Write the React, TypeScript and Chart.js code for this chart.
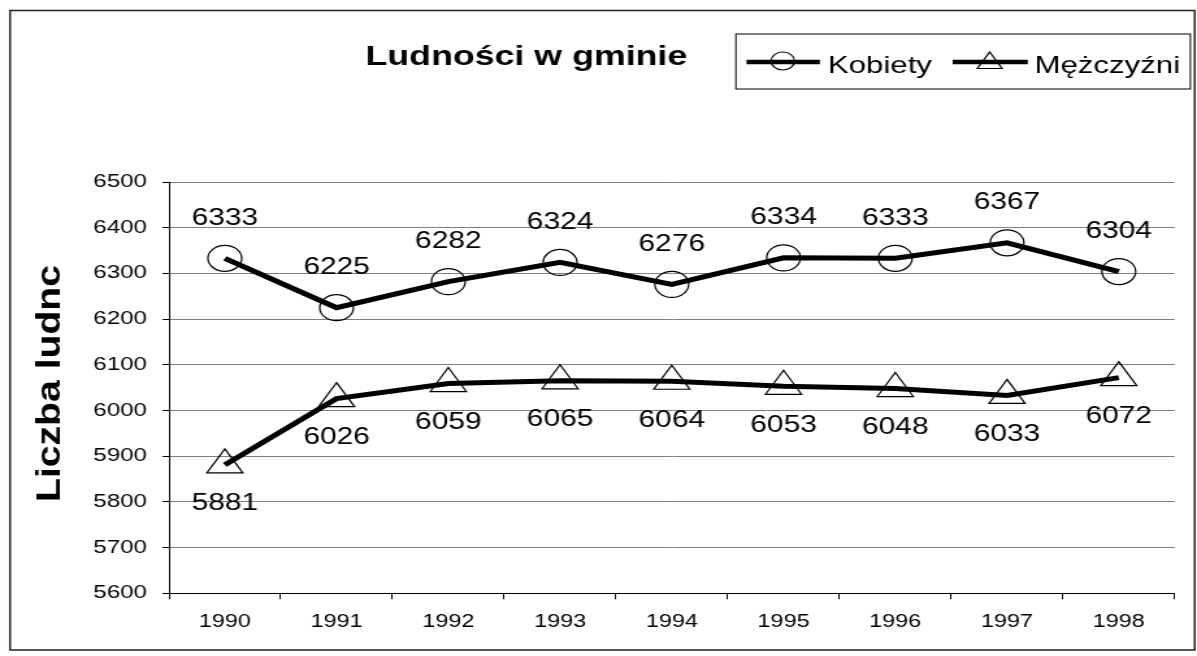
import React, { useEffect, useRef } from 'react';
import { Chart, registerables } from 'chart.js';

Chart.register(...registerables);

const YEARS = ['1990', '1991', '1992', '1993', '1994', '1995', '1996', '1997', '1998'];
const KOBIETY = [6333, 6225, 6282, 6324, 6276, 6334, 6333, 6367, 6304];
const MEZCZYZNI = [5881, 6026, 6059, 6065, 6064, 6053, 6048, 6033, 6072];
const SERIES_NAMES = ['Kobiety', 'Mężczyźni'];
const TITLE = 'Ludności w gminie';
const Y_TITLE = 'Liczba ludnc';
const Y_MIN = 5600;
const Y_MAX = 6500;
const Y_STEP = 100;

const FONT = '"Liberation Sans", Arial, sans-serif';
// The reference is horizontally stretched; render narrower and stretch with CSS.
const OUT_W = 1197;
const OUT_H = 656;
const STRETCH = 1.3;
const IN_W = Math.round(OUT_W / STRETCH);

function trianglePath(ctx: CanvasRenderingContext2D, cx: number, cy: number, r: number) {
  const s = Math.sin(Math.PI / 3) * r;
  ctx.beginPath();
  ctx.moveTo(cx, cy - r);
  ctx.lineTo(cx + s, cy + r / 2);
  ctx.lineTo(cx - s, cy + r / 2);
  ctx.closePath();
}

const overlayPlugin = {
  id: 'overlay',
  afterDatasetsDraw(chart: any) {
    const ctx: CanvasRenderingContext2D = chart.ctx;
    ctx.save();
    ctx.fillStyle = '#000';
    ctx.font = `23px ${FONT}`;
    ctx.textAlign = 'center';
    ctx.textBaseline = 'middle';
    chart.data.datasets.forEach((ds: any, di: number) => {
      const meta = chart.getDatasetMeta(di);
      meta.data.forEach((pt: any, i: number) => {
        const off = di === 0 ? -40 : 39;
        ctx.fillText(String(ds.data[i]), pt.x, pt.y + off);
      });
    });
    ctx.restore();
  },
  afterDraw(chart: any) {
    const ctx: CanvasRenderingContext2D = chart.ctx;
    ctx.save();
    // Title
    ctx.fillStyle = '#000';
    ctx.font = `bold 27.5px ${FONT}`;
    ctx.textAlign = 'center';
    ctx.textBaseline = 'alphabetic';
    ctx.fillText(TITLE, 405, 65);

    // Y axis title
    ctx.save();
    ctx.translate(39.6, 383.5);
    ctx.rotate(-Math.PI / 2);
    ctx.font = `bold 25px ${FONT}`;
    const w = ctx.measureText(Y_TITLE).width;
    ctx.scale(237 / w, 1);
    ctx.textAlign = 'center';
    ctx.textBaseline = 'middle';
    ctx.fillText(Y_TITLE, 0, 0);
    ctx.restore();

    // Legend box
    ctx.strokeStyle = '#000';
    ctx.lineWidth = 1;
    ctx.strokeRect(566.2, 34, 349.7, 55);
    const ly = 62;
    ctx.lineWidth = 4.5;
    ctx.beginPath();
    ctx.moveTo(574.4, ly);
    ctx.lineTo(630.8, ly);
    ctx.moveTo(733, ly);
    ctx.lineTo(790.8, ly);
    ctx.stroke();
    ctx.lineWidth = 1.2;
    ctx.beginPath();
    ctx.arc(602.3, 61, 9, 0, Math.PI * 2);
    ctx.stroke();
    trianglePath(ctx, 761.5, 63, 11);
    ctx.stroke();
    ctx.font = `24px ${FONT}`;
    ctx.textAlign = 'left';
    ctx.textBaseline = 'alphabetic';
    ctx.fillText(SERIES_NAMES[0], 637, 73);
    ctx.fillText(SERIES_NAMES[1], 796, 73);

    // Outer border
    ctx.strokeStyle = '#222';
    ctx.lineWidth = 1.5;
    ctx.strokeRect(7.7, 10.5, 911.5, 639.5);
    ctx.restore();
  },
};

export default function App() {
  const canvasRef = useRef<HTMLCanvasElement | null>(null);

  useEffect(() => {
    const canvas = canvasRef.current;
    if (!canvas) return;
    Chart.defaults.font.family = FONT;
    const chart = new Chart(canvas, {
      type: 'line',
      data: {
        labels: YEARS,
        datasets: [
          {
            label: SERIES_NAMES[0],
            data: KOBIETY,
            borderColor: '#000',
            borderWidth: 5,
            tension: 0,
            pointStyle: 'circle',
            pointRadius: 13,
            pointBorderWidth: 1.2,
            pointBorderColor: '#000',
            pointBackgroundColor: 'rgba(0,0,0,0)',
          },
          {
            label: SERIES_NAMES[1],
            data: MEZCZYZNI,
            borderColor: '#000',
            borderWidth: 5,
            tension: 0,
            pointStyle: 'triangle',
            pointRadius: 16,
            pointBorderWidth: 1.2,
            pointBorderColor: '#000',
            pointBackgroundColor: 'rgba(0,0,0,0)',
          },
        ],
      },
      options: {
        responsive: false,
        animation: false,
        events: [],
        layout: { padding: { top: 182, right: 3.3, left: 0, bottom: 0 } },
        plugins: {
          legend: { display: false },
          title: { display: false },
          tooltip: { enabled: false },
        },
        scales: {
          x: {
            offset: true,
            grid: {
              offset: true,
              drawOnChartArea: false,
              drawTicks: true,
              tickLength: 6,
              color: '#000',
            },
            border: { color: '#000', width: 1 },
            ticks: {
              color: '#000',
              font: { size: 18 },
              padding: 12,
              maxRotation: 0,
              autoSkip: false,
            },
            afterFit(scale: any) {
              scale.height = 62.7;
            },
          },
          y: {
            min: Y_MIN,
            max: Y_MAX,
            ticks: {
              stepSize: Y_STEP,
              color: '#000',
              font: { size: 18.5 },
              padding: 12,
              callback: (v: any) => String(v),
            },
            grid: {
              color: '#808080',
              tickColor: '#000',
              tickLength: 5,
              lineWidth: 1,
            },
            border: { color: '#000', width: 1 },
            afterFit(scale: any) {
              scale.width = 130;
            },
          },
        },
      },
      plugins: [overlayPlugin],
    } as any);
    return () => chart.destroy();
  }, []);

  return (
    <div
      style={{
        position: 'absolute',
        left: 0,
        top: 0,
        width: OUT_W,
        height: OUT_H,
        background: '#fff',
      }}
    >
      <canvas
        ref={canvasRef}
        width={IN_W}
        height={OUT_H}
        style={{ width: `${OUT_W}px`, height: `${OUT_H}px`, display: 'block' }}
      />
    </div>
  );
}
